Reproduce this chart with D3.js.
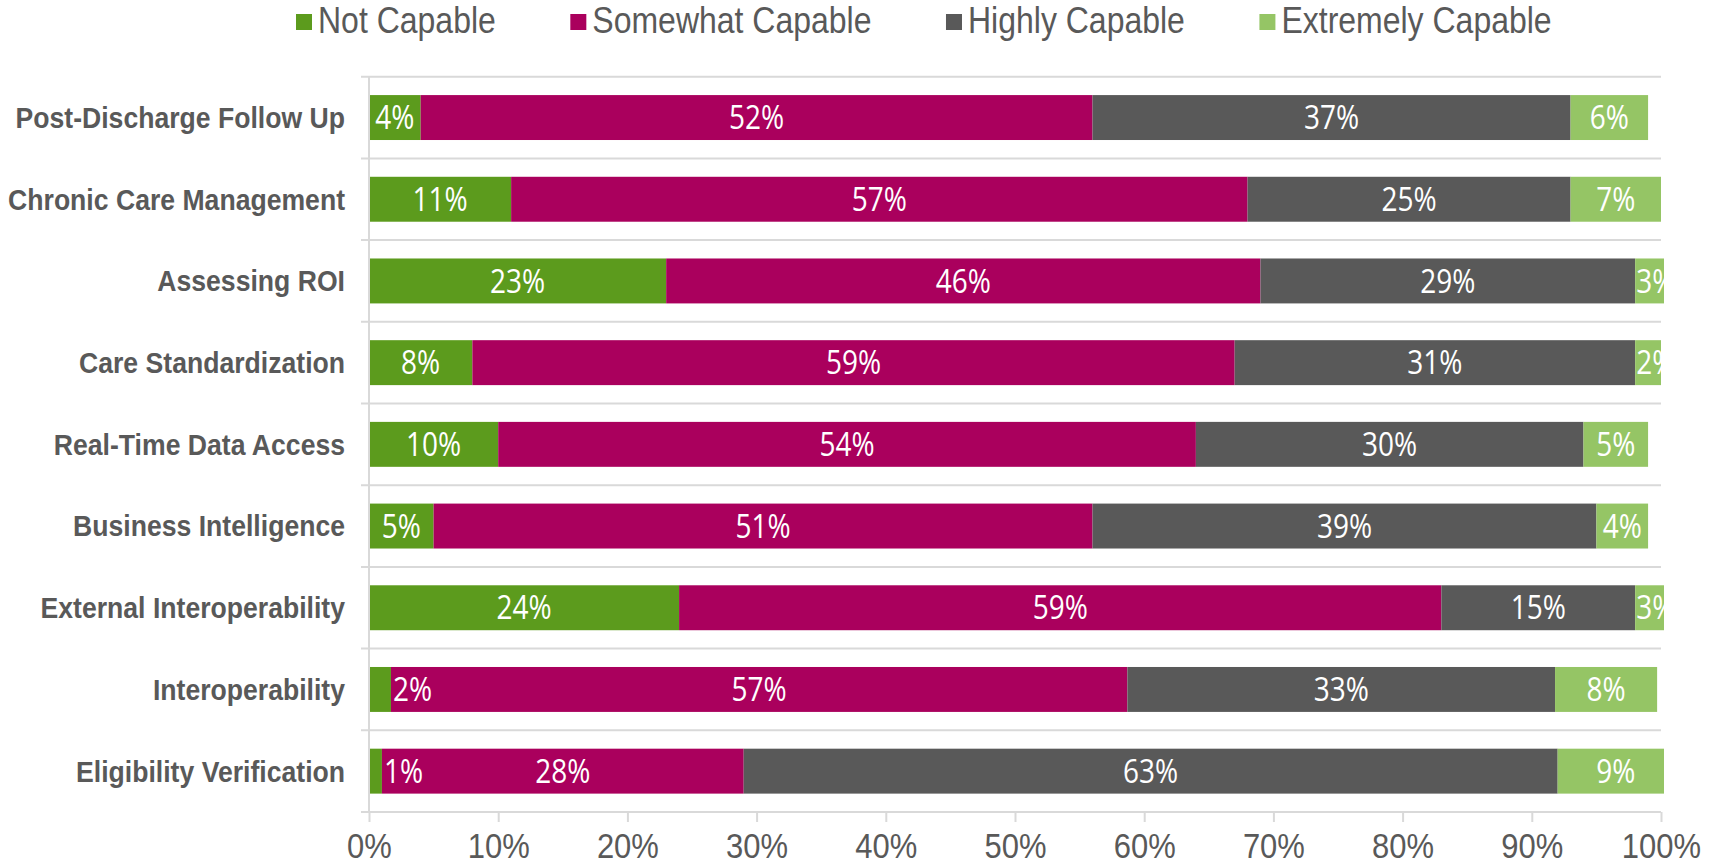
<!DOCTYPE html>
<html>
<head>
<meta charset="utf-8">
<script src="https://cdn.jsdelivr.net/npm/d3@7"></script>
<style>
  body { margin: 0; background: #fff; }
  svg { display: block; }
</style>
</head>
<body>
<svg id="chart" width="1719" height="866"></svg>
<script>
// categories top to bottom
const categories = [
  'Post-Discharge Follow Up',
  'Chronic Care Management',
  'Assessing ROI',
  'Care Standardization',
  'Real-Time Data Access',
  'Business Intelligence',
  'External Interoperability',
  'Interoperability',
  'Eligibility Verification'
]

const seriesNames = ['Not Capable', 'Somewhat Capable', 'Highly Capable', 'Extremely Capable']
const seriesColors = ['#5c9b1d', '#aa005d', '#595959', '#95c565']

// values in percent, one array per series, same order as categories
const notCapable       = [4, 11, 23, 8, 10, 5, 24, 1.7, 1]
const somewhatCapable  = [52, 57, 46, 59, 54, 51, 59, 57, 28]
const highlyCapable    = [37, 25, 29, 31, 30, 39, 15, 33.1, 63]
const extremelyCapable = [6, 7, 3, 2, 5, 4, 3, 7.9, 9]

const xTicks = [0, 10, 20, 30, 40, 50, 60, 70, 80, 90, 100]

const seriesValues = [notCapable, somewhatCapable, highlyCapable, extremelyCapable]

const textGray = '#595959'
const gridGray = '#d9d9d9'
const stretch = 1.15 // text in the original is a bit taller than wide

let svg = d3.select('#chart')

let x = d3.scaleLinear().domain([0, 100]).range([369, 1661])
let y = d3.scaleBand()
  .domain(categories)
  .range([76.7, 812])
  .paddingInner(0.45)
  .paddingOuter(0.225)

// stacked rows
let rows = categories.map((cat, i) => {
  let row = { cat: cat }
  seriesNames.forEach((s, j) => { row[s] = seriesValues[j][i] })
  return row
})
let stacked = d3.stack().keys(seriesNames)(rows)

// clip like the plot area does
svg.append('clipPath').attr('id', 'plotClip')
  .append('rect')
  .attr('x', 300).attr('y', 60)
  .attr('width', 1664 - 300).attr('height', 780)

// horizontal gridlines between categories
let gridYs = categories.map(c => y(c) - y.step() * y.paddingInner() / 2)
svg.append('g')
  .selectAll('line')
  .data(gridYs)
  .enter()
  .append('line')
  .attr('x1', 361).attr('x2', x(100))
  .attr('y1', d => d).attr('y2', d => d)
  .attr('stroke', gridGray)
  .attr('stroke-width', 2)

// bars
let plot = svg.append('g').attr('clip-path', 'url(#plotClip)')
plot.selectAll('g.layer')
  .data(stacked)
  .enter()
  .append('g')
  .attr('class', 'layer')
  .attr('fill', (d, i) => seriesColors[i])
  .selectAll('rect')
  .data(d => d)
  .enter()
  .append('rect')
  .attr('x', d => x(d[0]))
  .attr('y', d => y(d.data.cat))
  .attr('width', d => x(d[1]) - x(d[0]))
  .attr('height', y.bandwidth())

// value labels, drawn after all bars
let labels = []
stacked.forEach((layer, si) => {
  layer.forEach(d => {
    let v = d[1] - d[0]
    let lx = (x(d[0]) + x(d[1])) / 2
    let anchor = 'middle'
    // small segments: label pushed next to / into the following space
    if (si === 0 && v < 3) { lx = x(d[1]) + 2; anchor = 'start' }
    if (si === seriesNames.length - 1 && v < 4) { lx = x(d[0]) + 1; anchor = 'start' }
    labels.push({ x: lx, y: y(d.data.cat) + y.bandwidth() / 2, anchor: anchor, text: Math.round(v) + '%' })
  })
})

plot.append('g')
  .selectAll('text')
  .data(labels)
  .enter()
  .append('text')
  .attr('transform', d => 'translate(' + d.x + ',' + d.y + ') scale(1,' + stretch + ')')
  .attr('text-anchor', d => d.anchor)
  .attr('dy', '0.36em')
  .attr('fill', '#fff')
  .style('font-family', '"Open Sans", sans-serif')
  .style('font-size', '28px')
  .text(d => d.text)

// x axis
let xAxis = d3.axisBottom(x)
  .tickValues(xTicks)
  .tickFormat(d => d + '%')
  .tickSize(10)
  .tickSizeOuter(0)

let xg = svg.append('g')
  .attr('transform', 'translate(0,812)')
  .call(xAxis)
xg.select('.domain').remove()
xg.selectAll('.tick line').attr('stroke', gridGray).attr('stroke-width', 2)
xg.selectAll('.tick text')
  .attr('y', 40)
  .attr('dy', 0)
  .attr('transform', 'scale(1,' + stretch + ')')
  .attr('fill', textGray)
  .style('font-family', '"Liberation Sans", Arial, sans-serif')
  .style('font-size', '31px')
svg.append('line')
  .attr('x1', 361).attr('x2', x(100))
  .attr('y1', 812).attr('y2', 812)
  .attr('stroke', gridGray)
  .attr('stroke-width', 2)

// y axis with category names
let yAxis = d3.axisLeft(y).tickSize(0).tickPadding(24)
let yg = svg.append('g')
  .attr('transform', 'translate(369,0)')
  .call(yAxis)
yg.select('.domain').remove()
yg.selectAll('.tick text')
  .attr('dy', '0.35em')
  .attr('transform', 'scale(1,1.12)')
  .attr('fill', textGray)
  .style('font-family', '"Liberation Sans", Arial, sans-serif')
  .style('font-weight', 'bold')
  .style('font-size', '26.6px')
svg.append('line')
  .attr('x1', 369).attr('x2', 369)
  .attr('y1', 76.7).attr('y2', 812)
  .attr('stroke', gridGray)
  .attr('stroke-width', 2)

// legend
let legend = svg.append('g')
let lx = 296
seriesNames.forEach((name, i) => {
  let item = legend.append('g').attr('transform', 'translate(' + lx + ',0)')
  item.append('rect')
    .attr('x', 0).attr('y', 14)
    .attr('width', 16).attr('height', 16)
    .attr('fill', seriesColors[i])
  let t = item.append('text')
    .attr('transform', 'translate(22,33) scale(1,' + stretch + ')')
    .attr('fill', textGray)
    .style('font-family', '"Liberation Sans", Arial, sans-serif')
    .style('font-size', '32px')
    .text(name)
  lx += 22 + t.node().getComputedTextLength() + 74.5
})
</script>
</body>
</html>
